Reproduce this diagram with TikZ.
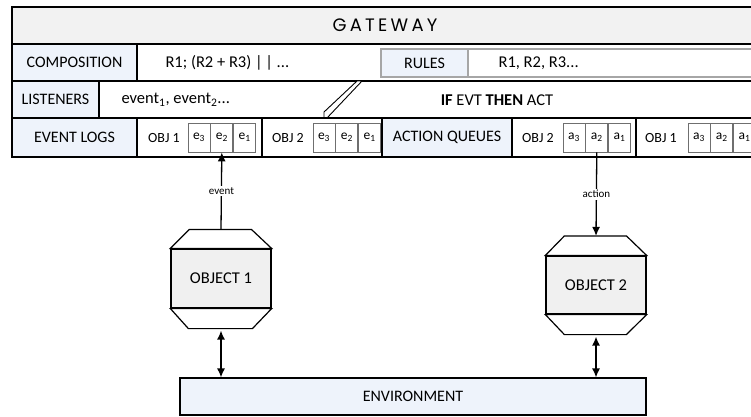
\documentclass[tikz,border=0pt]{standalone}
\usepackage{fontspec}
\setmainfont{Carlito}
\newfontfamily\gwfont[LetterSpace=18]{Poppins}
\usetikzlibrary{positioning,arrows.meta}
\definecolor{lblue}{HTML}{EEF3FB}
\definecolor{lgray}{HTML}{F2F2F2}
\definecolor{ogray}{HTML}{F0F0F0}
\definecolor{cline}{HTML}{6F6F6F}
\definecolor{bline}{HTML}{A6A6A6}

\begin{document}
\begin{tikzpicture}[x=1pt, y=-1pt, >={Latex[length=9pt,width=8pt]},
    frame/.style = {draw, line width=1.2pt},
    lbl/.style = {draw, fill=lblue, line width=1.2pt, minimum height=37pt, inner sep=0pt, font=\fontsize{16}{19}\selectfont},
    grp/.style = {draw, line width=1.2pt, minimum height=39pt, inner sep=0pt},
    cell/.style = {draw=cline, line width=0.8pt, minimum width=22pt, minimum height=29pt, inner sep=0pt, font=\fontsize{13.5}{15}\selectfont},
    txt/.style = {font=\fontsize{16.5}{19}\selectfont},
    objtxt/.style = {font=\fontsize{14}{17}\selectfont},
    objbody/.style = {draw, fill=ogray, line width=1.2pt, minimum width=100pt, inner sep=0pt, font=\fontsize{16.5}{19}\selectfont},
    arr/.style = {line width=1.3pt},
    lab/.style = {fill=white, inner sep=1.5pt, font=\fontsize{11}{13}\selectfont}]
  \useasboundingbox (0,0) rectangle (751,416);
  \clip (0,0) rectangle (751,416);

  % gateway header
  \draw[frame, fill=lgray] (12,7) rectangle (765,44);
  \node (gateway) at (385,25) {\gwfont\fontsize{18}{21}\selectfont GATEWAY};

  % composition and rules
  \draw[frame] (12,44) rectangle (765,81);
  \node[lbl, minimum width=125pt] (comp) at (74.5,62.5) {COMPOSITION};
  \node[txt, anchor=west] (compval) at (162,62.5) {R1; (R2 + R3) |\,| ...};
  \draw[bline, line width=1.4pt] (468,49) rectangle (765,77);
  \node[lbl, draw=bline, line width=1.4pt, minimum width=87pt, minimum height=28pt] (rules) at (424.5,63) {RULES};
  \node[txt, anchor=west] (rulesval) at (495,63) {R1, R2, R3...};

  % listeners
  \draw[frame] (12,81) rectangle (765,118);
  \node[lbl, minimum width=87pt] (listen) at (55.5,99.5) {LISTENERS};
  \node[txt, anchor=west] (listenval) at (118,99.5) {event\textsubscript{1}, event\textsubscript{2}...};
  \filldraw[fill=white, line width=0.9pt] (324,118) -- (324,112) -- (357,81) -- (362,81) -- (327,118) -- cycle;
  \node[txt] (rule) at (497,100) {\textbf{IF} EVT \textbf{THEN} ACT};

  % event logs and action queues
  \draw[frame] (12,118) rectangle (765,157);
  \node[lbl, minimum width=125pt, minimum height=39pt] (logs) at (74.5,137.5) {EVENT LOGS};
  \node[grp, minimum width=125pt] (log1) at (199.5,137.5) {};
  \node[grp, minimum width=120pt] (log2) at (322,137.5) {};
  \node[lbl, minimum width=130pt, minimum height=39pt] (queues) at (447,137.5) {ACTION QUEUES};
  \node[grp, minimum width=124pt] (q2) at (574,137.5) {};
  \node[grp, minimum width=129pt] (q1) at (700.5,137.5) {};

  \node[objtxt] (log1txt) at (164,138) {OBJ 1};
  \node[cell] (e13) at (199,137.5) {e\textsubscript{3}};
  \node[cell, right=0pt of e13] (e12) {e\textsubscript{2}};
  \node[cell, right=0pt of e12] (e11) {e\textsubscript{1}};

  \node[objtxt] (log2txt) at (288,138) {OBJ 2};
  \node[cell] (e23) at (324,137.5) {e\textsubscript{3}};
  \node[cell, right=0pt of e23] (e22) {e\textsubscript{2}};
  \node[cell, right=0pt of e22] (e21) {e\textsubscript{1}};

  \node[objtxt] (q2txt) at (538,138) {OBJ 2};
  \node[cell] (a23) at (574,137.5) {a\textsubscript{3}};
  \node[cell, right=0pt of a23] (a22) {a\textsubscript{2}};
  \node[cell, right=0pt of a22] (a21) {a\textsubscript{1}};

  \node[objtxt] (q1txt) at (661,138) {OBJ 1};
  \node[cell] (a13) at (699,137.5) {a\textsubscript{3}};
  \node[cell, right=0pt of a13] (a12) {a\textsubscript{2}};
  \node[cell, right=0pt of a12] (a11) {a\textsubscript{1}};

  % objects
  \node[objbody, minimum height=59pt] (obj1) at (221,278.5) {OBJECT 1};
  \filldraw[fill=white, line width=1.2pt] (obj1.north west) -- ++(19,-19) -- ++(62,0) -- (obj1.north east) -- cycle;
  \filldraw[fill=white, line width=1.2pt] (obj1.south west) -- ++(18,20) -- ++(64,0) -- (obj1.south east) -- cycle;
  \coordinate (obj1top) at ([yshift=19pt]obj1.north);
  \coordinate (obj1bot) at ([yshift=-20pt]obj1.south);

  \node[objbody, minimum height=58pt] (obj2) at (596,285) {OBJECT 2};
  \filldraw[fill=white, line width=1.2pt] (obj2.north west) -- ++(19,-19.5) -- ++(62,0) -- (obj2.north east) -- cycle;
  \filldraw[fill=white, line width=1.2pt] (obj2.south west) -- ++(19,20) -- ++(62,0) -- (obj2.south east) -- cycle;
  \coordinate (obj2top) at ([yshift=19.5pt]obj2.north);
  \coordinate (obj2bot) at ([yshift=-20pt]obj2.south);

  \node[lbl, minimum width=466pt] (env) at (413,396.5) {ENVIRONMENT};

  % connectors
  \draw[->, arr] (obj1top) -- (e12.south) node[lab, midway] {event};
  \draw[->, arr] (a22.south) -- (obj2top) node[lab, midway] {action};
  \draw[<->, arr] ([yshift=-2pt]obj1bot) -- (obj1bot |- env.north);
  \draw[<->, arr] ([yshift=-2pt]obj2bot) -- (obj2bot |- env.north);
\end{tikzpicture}
\end{document}
